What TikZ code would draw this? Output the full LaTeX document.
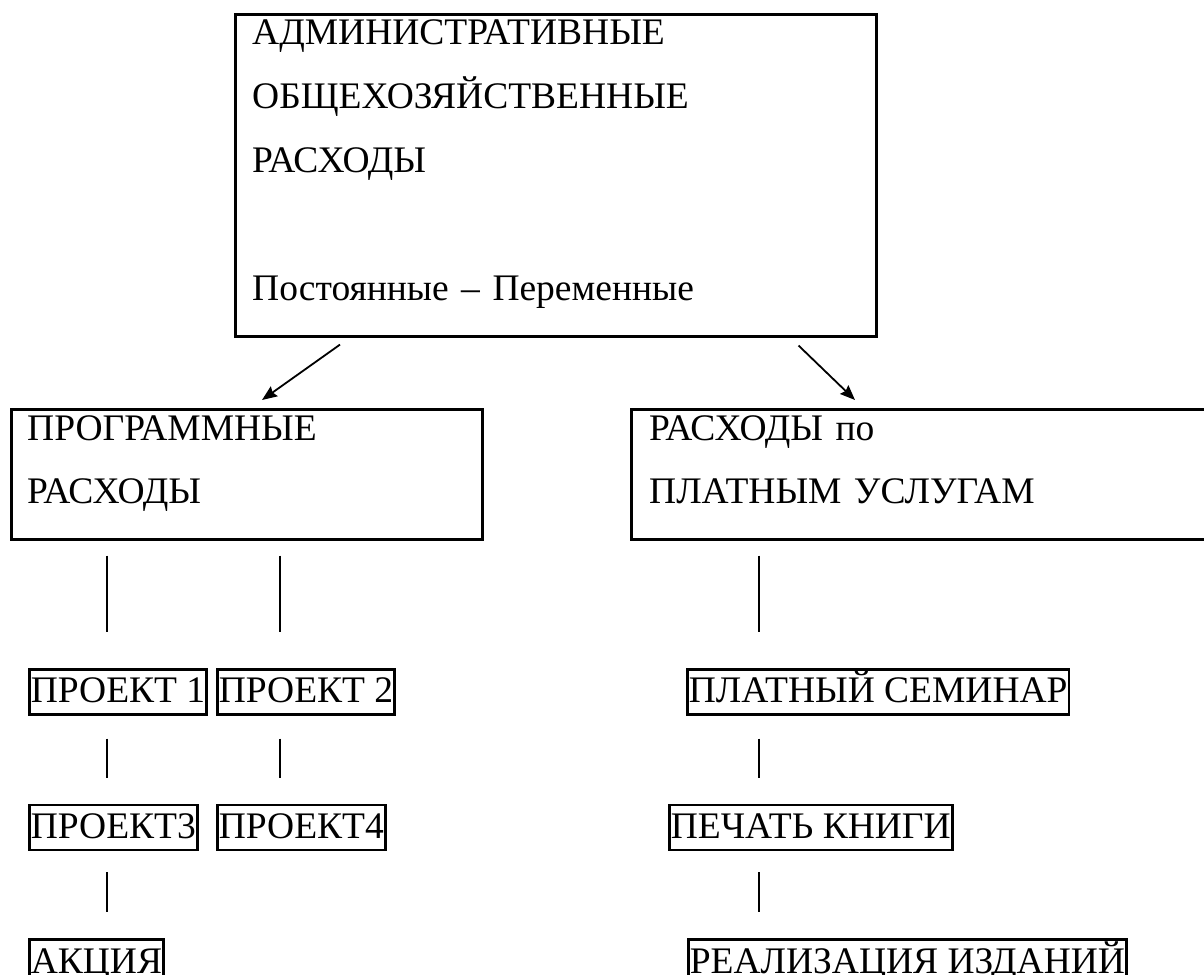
\documentclass[tikz,border=0pt]{standalone}
\usepackage{fontspec}
\setmainfont{Liberation Serif}
\usetikzlibrary{arrows.meta, positioning}
\tikzset{%
>={Stealth[length=15pt,width=12pt,inset=2pt]},
  % Specifications for style of nodes:
            bigbox/.style = {rectangle, draw=black, line width=2.6pt,
                            anchor=north west, inner sep=0pt},
            boxtext/.style = {anchor=base west, inner sep=0pt, align=left,
                            font=\fontsize{37.5}{64}\selectfont},
            smallbox/.style = {rectangle, draw=black, line width=2.6pt,
                            inner xsep=1.5pt, inner ysep=3.5pt,
                            text height=30pt, text depth=8pt,
                            font=\fontsize{37.5}{40}\selectfont},
            link/.style = {draw=black, line width=1.8pt}
}
\begin{document}
\begin{tikzpicture}[x=1pt, y=-1pt]
                        \useasboundingbox (0,0) rectangle (1204,974);
                        % top box
                        \node[bigbox, minimum width=641pt, minimum height=322pt] (adm) at (234,13) {};
                        \node[boxtext, text width=600pt] (admtext) at ([shift={(18,32)}]adm.north west)
                            {АДМИНИСТРАТИВНЫЕ\\ОБЩЕХОЗЯЙСТВЕННЫЕ\\РАСХОДЫ\\[64pt]Постоянные – Переменные};
                        % second row
                        \node[bigbox, minimum width=471pt, minimum height=130pt] (prog) at (10,408) {};
                        \node[boxtext, text width=440pt] (progtext) at ([shift={(17,32)}]prog.north west)
                            {ПРОГРАММНЫЕ\\[-1pt]РАСХОДЫ};
                        \node[bigbox, minimum width=600pt, minimum height=130pt] (paid) at (630,408) {};
                        \node[boxtext, text width=540pt] (paidtext) at ([shift={(19,32)}]paid.north west)
                            {РАСХОДЫ по\\[-1pt]ПЛАТНЫМ УСЛУГАМ};
                        % projects
                        \node[smallbox, anchor=north west] (p1) at (28,668) {ПРОЕКТ 1};
                        \node[smallbox, anchor=north west] (p2) at (216,668) {ПРОЕКТ 2};
                        \node[smallbox, below=88pt of p1.south west, anchor=north west] (p3) {ПРОЕКТ3};
                        \node[smallbox, below=88pt of p2.south west, anchor=north west] (p4) {ПРОЕКТ4};
                        \node[smallbox, below=87pt of p3.south west, anchor=north west] (akt) {АКЦИЯ};
                        % paid services
                        \node[smallbox, anchor=north west] (sem) at (686,668) {ПЛАТНЫЙ СЕМИНАР};
                        \node[smallbox, below left=88pt and 18pt of sem.south west, anchor=north west] (book) {ПЕЧАТЬ КНИГИ};
                        \node[smallbox, below right=87pt and 19pt of book.south west, anchor=north west] (sale) {РЕАЛИЗАЦИЯ ИЗДАНИЙ};
                        % arrows
                        \draw[link, ->] ([shift={(106,7)}]adm.south west) -- ([shift={(252,-8)}]prog.north west);
                        \draw[link, ->] ([shift={(-79,8)}]adm.south east) -- ([shift={(225,-8)}]paid.north west);
                        % stubs
                        \draw[link] ([shift={(97,15)}]prog.south west) -- ([shift={(79,-36)}]p1.north west);
                        \draw[link] ([shift={(270,15)}]prog.south west) -- ([shift={(64,-36)}]p2.north west);
                        \draw[link] ([shift={(129,15)}]paid.south west) -- ([shift={(73,-36)}]sem.north west);
                        \draw[link] ([shift={(79,23)}]p1.south west) -- ([shift={(79,-26)}]p3.north west);
                        \draw[link] ([shift={(64,23)}]p2.south west) -- ([shift={(64,-26)}]p4.north west);
                        \draw[link] ([shift={(79,21)}]p3.south west) -- ([shift={(79,-26)}]akt.north west);
                        \draw[link] ([shift={(73,23)}]sem.south west) -- ([shift={(91,-26)}]book.north west);
                        \draw[link] ([shift={(91,21)}]book.south west) -- ([shift={(72,-26)}]sale.north west);
                    \end{tikzpicture}
\end{document}
